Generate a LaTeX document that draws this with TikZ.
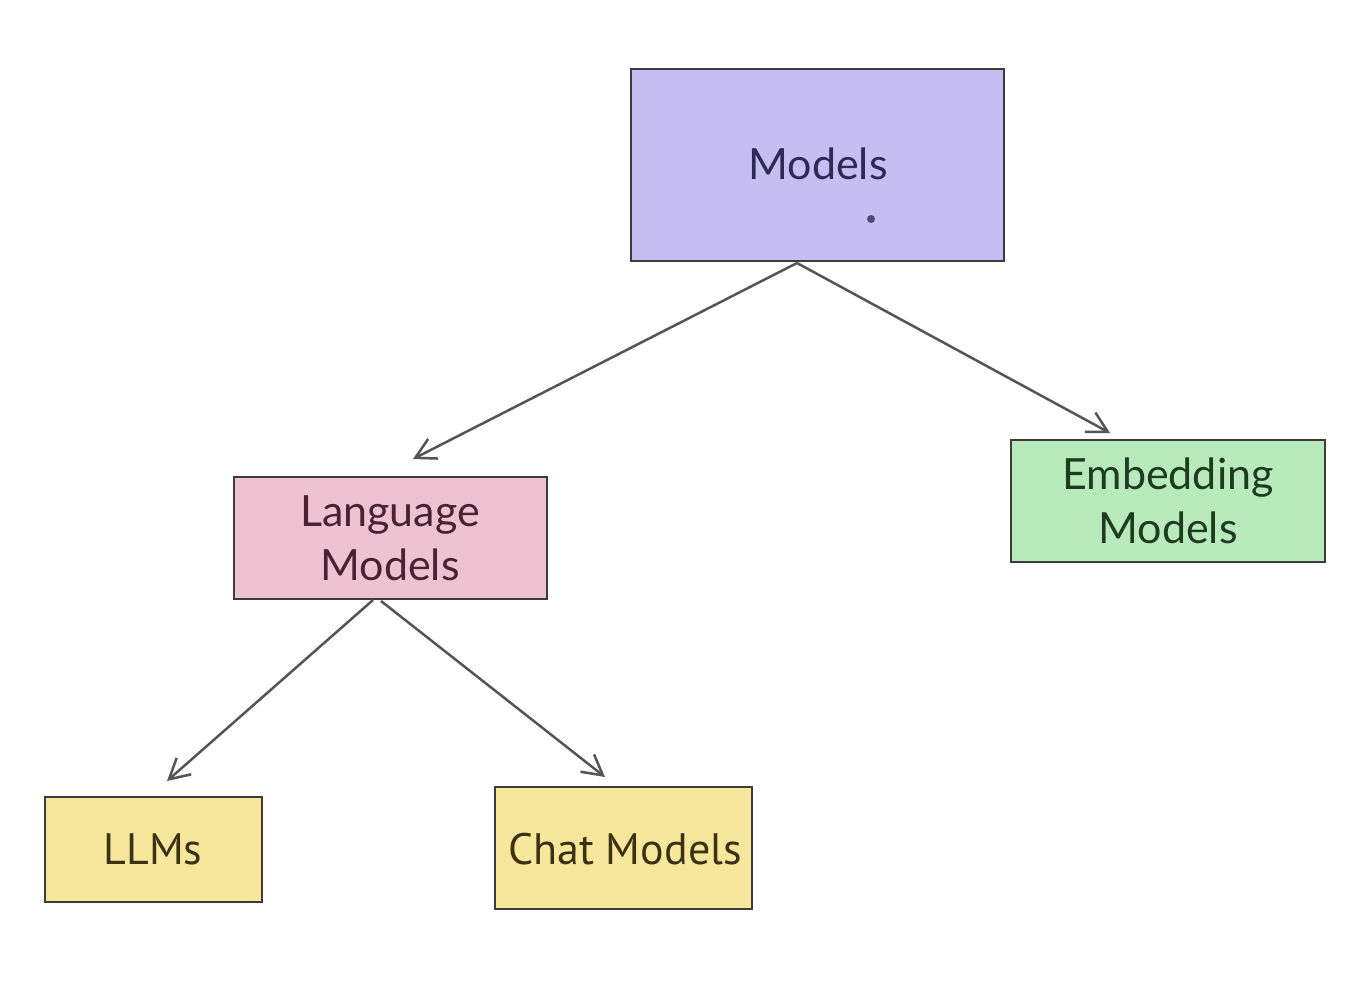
\documentclass[tikz,border=0pt]{standalone}
\usepackage{fontspec}
\setmainfont{Lato}
\newfontfamily\boxfont{PT Sans}
\usetikzlibrary{arrows.meta}
\definecolor{purplefill}{HTML}{C6BEF3}
\definecolor{pinkfill}{HTML}{EFC2D2}
\definecolor{greenfill}{HTML}{B9EABC}
\definecolor{yellowfill}{HTML}{F7E79D}
\definecolor{strokec}{HTML}{3C3C3C}
\definecolor{arrowc}{HTML}{555555}
\definecolor{purpletext}{HTML}{2F2A55}
\definecolor{pinktext}{HTML}{4A2232}
\definecolor{greentext}{HTML}{1F3B22}
\definecolor{yellowtext}{HTML}{3A3212}
\begin{document}
\begin{tikzpicture}[x=1pt,y=-1pt,
  boxstyle/.style={draw=strokec, line width=1.8pt},
  boxtext/.style={font=\fontsize{43}{54}\selectfont, align=center, inner sep=0pt},
  smalltext/.style={font=\boxfont\fontsize{44}{50}\selectfont},
  linkstyle/.style={draw=arrowc, line width=2.5pt, -{Straight Barb[length=20pt,width=22pt,line width=2.5pt]}}
]
\useasboundingbox[fill=white] (0,0) rectangle (1370,994);
% boxes
\path[boxstyle, fill=purplefill] (631,69) rectangle (1004,261);
\node[boxtext, text=purpletext] (models) at (818,164) {Models};
\fill[purpletext!80!purplefill] (871,219) circle (4);

\path[boxstyle, fill=pinkfill] (234,477) rectangle (547,599);
\node[boxtext, text=pinktext] (lang) at (390,538) {Language\\Models};

\path[boxstyle, fill=greenfill] (1011,440) rectangle (1325,562);
\node[boxtext, text=greentext] (emb) at (1168,501) {Embedding\\Models};

\path[boxstyle, fill=yellowfill] (45,797) rectangle (262,902);
\node[boxtext, smalltext, text=yellowtext] (llm) at (153,849) {LLMs};

\path[boxstyle, fill=yellowfill] (495,787) rectangle (752,909);
\node[boxtext, smalltext, text=yellowtext] (chat) at (625,849) {Chat Models};

% connector anchors
\coordinate (mbot) at (797,263);
\coordinate (langin) at (413,459);
\coordinate (embin) at (1110,433);
\coordinate (lbotL) at (373,600);
\coordinate (lbotR) at (381,601);
\coordinate (llmin) at (167,781);
\coordinate (chatin) at (605,777);

\draw[linkstyle] (mbot) -- (langin);
\draw[linkstyle] (mbot) -- (embin);
\draw[linkstyle] (lbotL) -- (llmin);
\draw[linkstyle] (lbotR) -- (chatin);
\end{tikzpicture}
\end{document}
